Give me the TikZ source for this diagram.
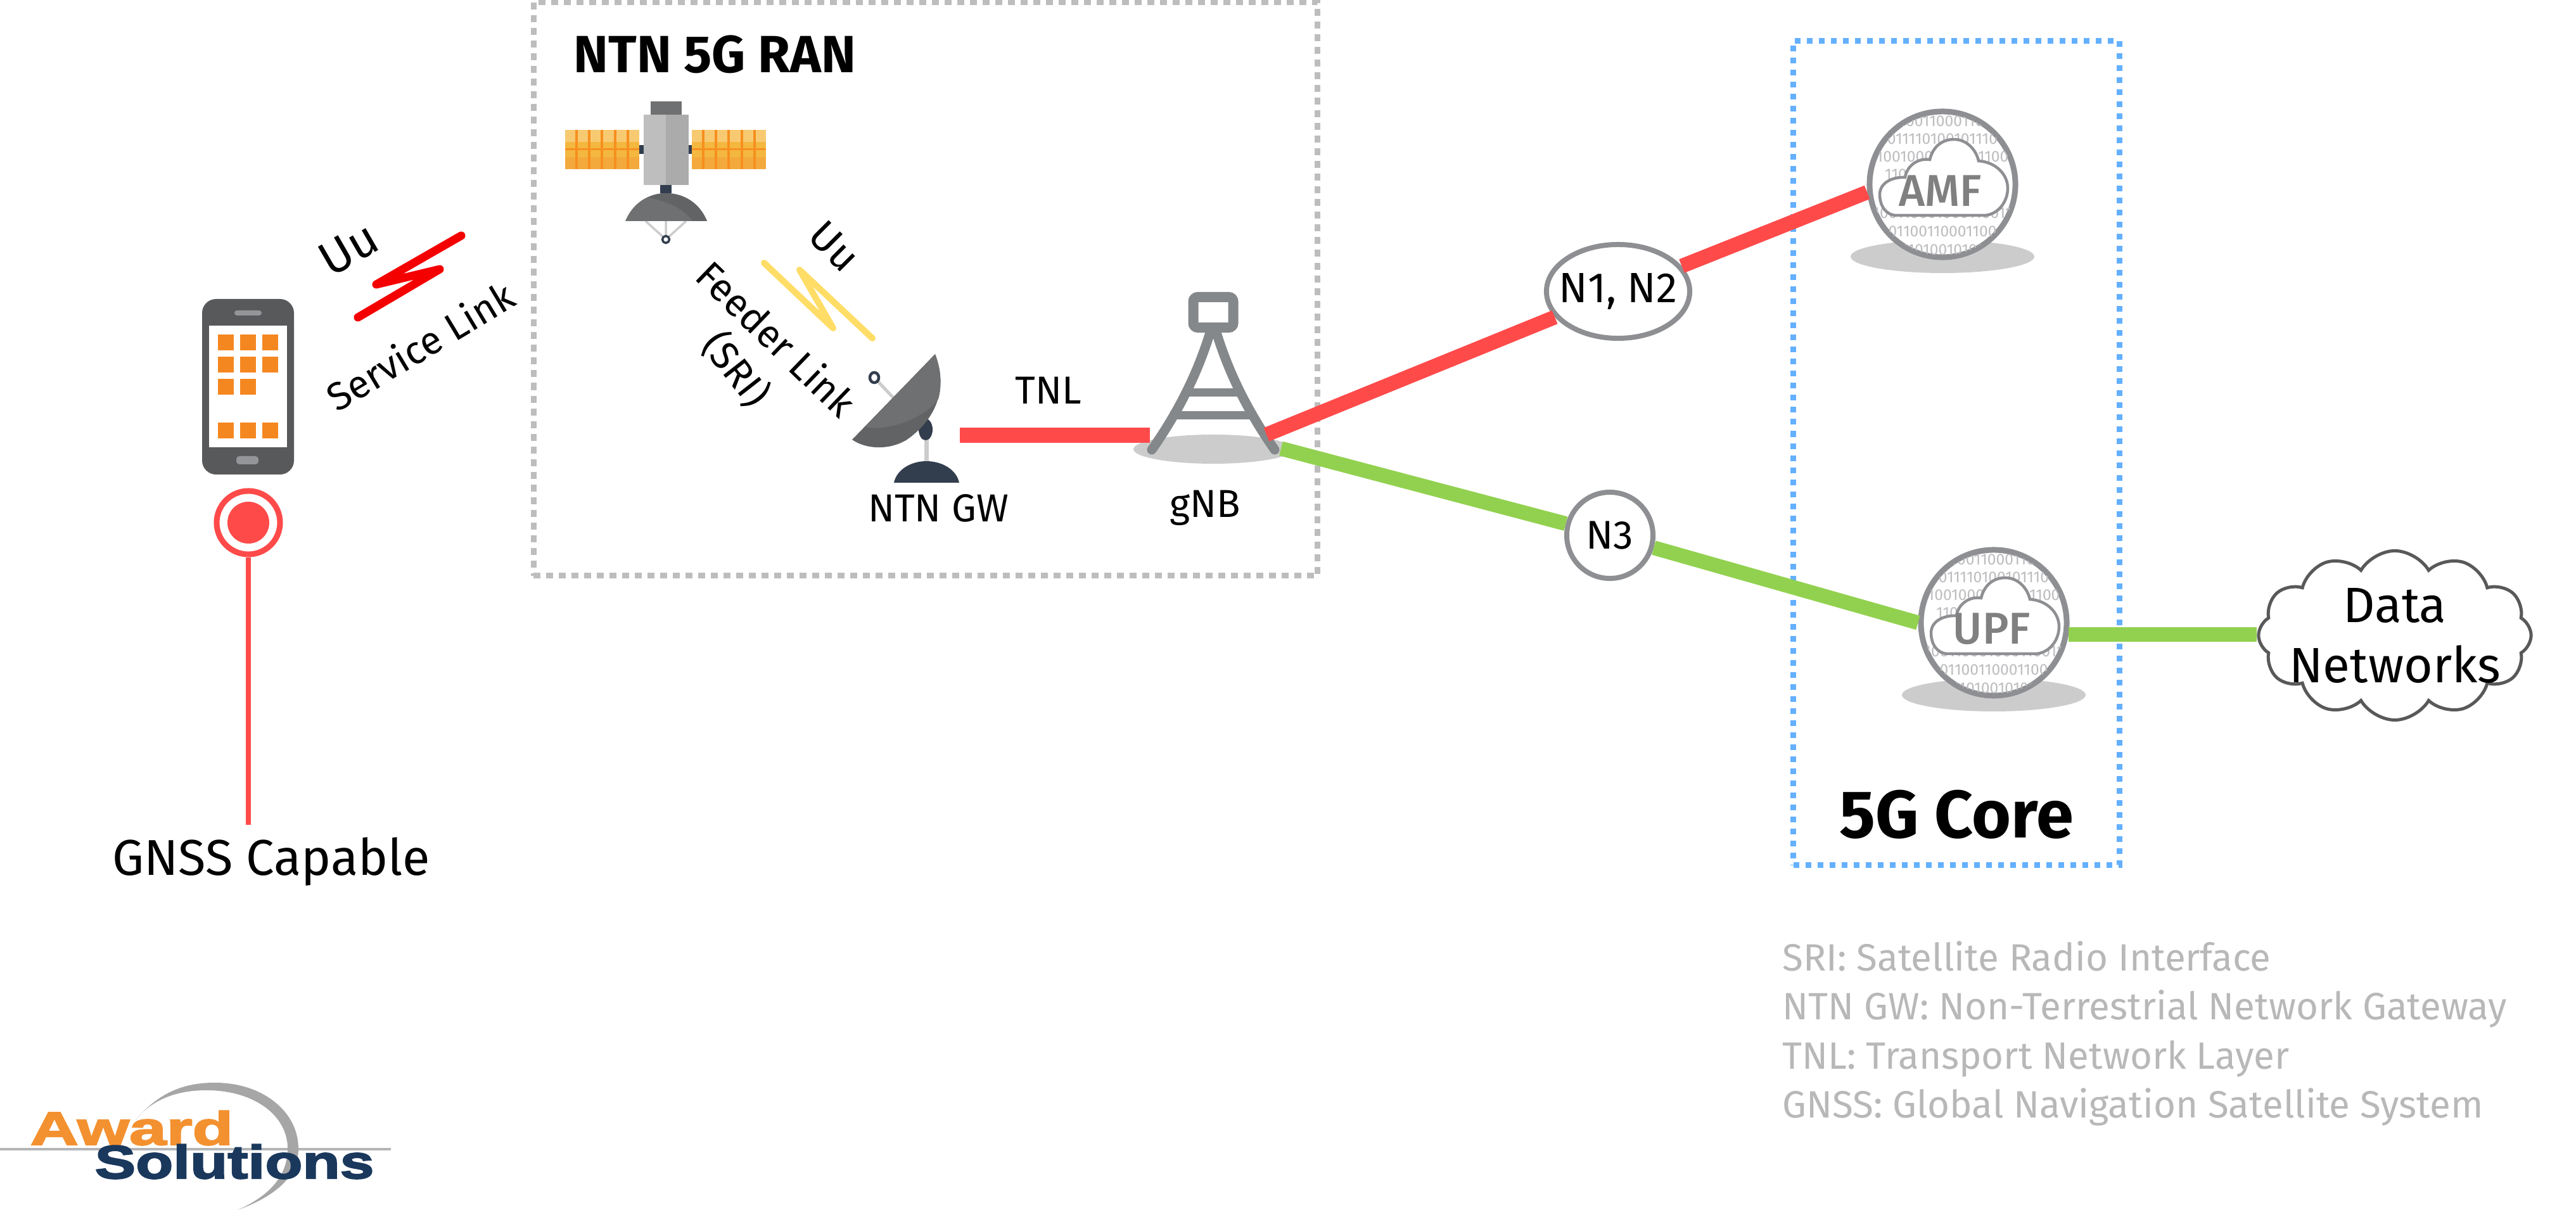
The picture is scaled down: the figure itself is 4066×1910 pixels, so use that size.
\documentclass[tikz,border=0pt]{standalone}
\usepackage{fontspec}
\setmainfont{Fira Sans}
\newfontfamily\logofont[BoldFeatures={FakeBold=3,FakeStretch=1.31}]{Liberation Sans}
\newfontfamily\nffont{Fira Sans Medium}
\usepackage{tikz}
\usetikzlibrary{positioning,shapes.geometric,shapes.symbols}
\definecolor{linkred}{HTML}{FF4A4A}
\definecolor{linkgreen}{HTML}{92D14F}
\definecolor{boltred}{HTML}{F50000}
\definecolor{boltyellow}{HTML}{FFDD66}
\definecolor{boxgray}{HTML}{BDBDBD}
\definecolor{boxblue}{HTML}{64B0FF}
\definecolor{ringgray}{HTML}{8E8F92}
\definecolor{towergray}{HTML}{85888A}
\definecolor{shadowgray}{HTML}{CCCCCC}
\definecolor{bitgray}{HTML}{BDBDC0}
\definecolor{slate}{HTML}{323E4E}
\definecolor{phonegray}{HTML}{58595B}
\definecolor{keygray}{HTML}{939598}
\definecolor{apporange}{HTML}{F58720}
\definecolor{legendgray}{HTML}{B8B8B8}
\definecolor{logoorange}{HTML}{F39130}
\definecolor{logonavy}{HTML}{1A385C}
\definecolor{swoosh}{HTML}{A6A6A6}
\definecolor{panelhi}{HTML}{F7CA72}
\definecolor{panelmid}{HTML}{F4B740}
\definecolor{panellow}{HTML}{F3A93B}
\definecolor{panelline}{HTML}{F78F1E}
\definecolor{dishlight}{HTML}{6F7071}
\definecolor{dishdark}{HTML}{626364}
\definecolor{bodylight}{HTML}{BEBEBE}
\definecolor{bodydark}{HTML}{ABABAB}
\tikzset{
  lbl/.style={font=\fontsize{17.5}{20}\selectfont, inner sep=0pt},
  hdr/.style={font=\fontsize{#1}{24}\selectfont\bfseries, inner sep=0pt},
  ranbox/.style={draw=boxgray, line width=0.09cm, dash pattern=on 0.11cm off 0.09cm, minimum width=12.37cm, minimum height=9.05cm},
  corebox/.style={draw=boxblue, line width=0.09cm, dash pattern=on 0.09cm off 0.10cm, minimum width=5.14cm, minimum height=13.01cm},
  redlink/.style={draw=linkred, line width=0.23cm},
  greenlink/.style={draw=linkgreen, line width=0.23cm},
  bolt/.style={line width=0.13cm, line cap=round, line join=round},
  ifnode/.style={draw=ringgray, fill=white, line width=0.08cm, inner sep=0pt},
  nfring/.style={draw=ringgray, fill=white, circle, line width=0.09cm, minimum size=2.3cm, inner sep=0pt},
  nfcloud/.style={draw=ringgray, fill=white, line width=0.045cm},
  nflbl/.style={text=black!50, font=\nffont\fontsize{20}{22}\selectfont, inner sep=0pt},
  bitrow/.style={text=bitgray, font=\fontsize{7}{8}\selectfont, inner sep=0pt},
  tower/.style={draw=towergray, line width=0.15cm, line cap=round}
}
% network function: circle of bits with a cloud and a shadow
\newcommand{\nfnode}[4]{%
  \begin{scope}[shift={(#1,#2)}]
    \fill[shadowgray] (0,114) ellipse [x radius=145, y radius=26];
    \node[nfring] (#3) at (0,0) {};
    \begin{scope}
      \clip (0,0) circle [radius=112];
      \foreach \ry/\bits in {-100/1100110001100,-72/011110100101110,-44/10010001100101100,-16/110001100100011,14/10100100110001,45/100110001000110011,74/01100110001100,103/11010010101}
        \node[bitrow] (#3b\ry) at (0,\ry) {\bits};
    \end{scope}
    \draw[nfcloud] (-72,49) .. controls (-90,49) and (-99,33) .. (-99,16) .. controls (-99,-2) and (-80,-12) .. (-59,-11) .. controls (-56,-30) and (-38,-42) .. (-20,-39) .. controls (-15,-60) and (0,-71) .. (18,-71) .. controls (38,-71) and (53,-55) .. (57,-37) .. controls (85,-35) and (103,-15) .. (103,6) .. controls (103,30) and (85,49) .. (65,49) -- cycle;
    \node[nflbl] (#3lbl) at (-3,10) {#4};
  \end{scope}}
\begin{document}
\begin{tikzpicture}[x=0.01cm, y=-0.01cm]
  \useasboundingbox (0,0) rectangle (4066,1910);
  % boxes
  \node[ranbox] (ran) at (1461,456) {};
  \node[corebox] (core) at (3088,715) {};
  \node[hdr=23.5, anchor=west] (ranlbl) at (905,86) {NTN 5G RAN};
  \node[hdr=30.2] (corelbl) at (3088,1286) {5G Core};
  % phone
  \fill[phonegray, rounded corners=0.22cm] (319,472) rectangle (464,749);
  \fill[white] (330,514) rectangle (453,706);
  \fill[keygray, rounded corners=0.04cm] (370,490) rectangle (413,498);
  \fill[keygray, rounded corners=0.05cm] (373,720) rectangle (408,733);
  \foreach \ax in {344,379,414}
    \foreach \ay in {528,563,598,667}
      \fill[apporange] (\ax,\ay) rectangle +(25,25);
  \fill[white] (414,598) rectangle +(25,25);
  % GNSS pin
  \node[circle, draw=linkred, fill=white, line width=0.09cm, minimum size=1cm, inner sep=0pt] (pin) at (392,825) {};
  \node[circle, fill=linkred, minimum size=0.66cm, inner sep=0pt] (pindot) at (pin) {};
  \node[lbl, font=\fontsize{22.6}{24}\selectfont] (gnss) at (428,1360) {GNSS Capable};
  \coordinate (gnsstop) at (392,1302);
  \draw[draw=linkred, line width=0.085cm] (pin) -- (gnsstop);
  % service link
  \draw[bolt, boltred] (565,501) -- (694,425) -- (594,449) -- (728,372);
  \node[lbl, rotate=30, font=\fontsize{21.5}{22}\selectfont] (uua) at (550,393) {Uu};
  \node[lbl, rotate=31] (serv) at (663,546) {Service Link};
  % satellite
  \foreach \px in {892,1092} {
    \begin{scope}[shift={(\px,0)}]
      \fill[panelhi] (0,205) rectangle (117,224);
      \fill[panelmid] (0,224) rectangle (117,248);
      \fill[panellow] (0,248) rectangle (117,267);
      \foreach \lx in {18,38,58,79,99}
        \draw[panelline, line width=0.035cm] (\lx,205) -- (\lx,267);
      \draw[panelline, line width=0.03cm] (0,236) -- (117,236);
    \end{scope}
  }
  \fill[slate] (1009,229) rectangle (1016,243);
  \fill[slate] (1087,229) rectangle (1092,243);
  \fill[dishlight] (1027,160) rectangle (1076,181);
  \fill[bodylight] (1016,181) rectangle (1051,292);
  \fill[bodydark] (1051,181) rectangle (1087,292);
  \fill[slate] (1042,292) rectangle (1060,305);
  \draw[shadowgray, line width=0.035cm] (1019,349) -- (1051,378) (1051,349) -- (1051,378) (1083,349) -- (1051,378);
  \fill[dishlight] (987,349) .. controls (998,322) and (1022,305) .. (1051,305) .. controls (1081,305) and (1105,322) .. (1116,349) -- cycle;
  \fill[dishdark] (1023,312) .. controls (1032,307) and (1041,305) .. (1051,305) .. controls (1081,305) and (1105,322) .. (1116,349) -- (1093,349) .. controls (1080,330) and (1055,318) .. cycle;
  \draw[slate, fill=white, line width=0.035cm] (1051,378) circle [radius=5.5];
  % feeder link
  \draw[bolt, boltyellow, line width=0.1cm] (1206,415) -- (1315,518) -- (1262,426) -- (1377,534);
  \node[lbl, rotate=-45, font=\fontsize{18.5}{20}\selectfont] (uub) at (1317,389) {Uu};
  \node[lbl, rotate=-44] (feeder) at (1226,534) {Feeder Link};
  \node[lbl, rotate=-52] (sri) at (1162,583) {(SRI)};
  % gateway dish
  \draw[shadowgray, line width=0.07cm] (1462,680) -- (1462,730);
  \draw[shadowgray, line width=0.05cm] (1380,596) -- (1412,630);
  \draw[slate, fill=white, line width=0.045cm] (1380,596) circle [x radius=7, y radius=8];
  \fill[slate] (1461,678) ellipse [x radius=11, y radius=17];
  \fill[dishdark] (1476,559) -- (1345,694) .. controls (1365,708) and (1400,712) .. (1430,695) .. controls (1470,668) and (1500,620) .. cycle;
  \fill[dishlight] (1476,559) -- (1366,674) .. controls (1400,682) and (1460,660) .. (1481,630) .. controls (1487,610) and (1485,585) .. cycle;
  \fill[slate] (1411,762) .. controls (1415,742) and (1437,728) .. (1462,728) .. controls (1488,728) and (1510,742) .. (1514,762) -- cycle;
  \node[lbl] (gwlbl) at (1481,802) {NTN GW};
  % gNB tower
  \fill[shadowgray] (1915,709) ellipse [x radius=126, y radius=23];
  \draw[tower] (1910,525) .. controls (1890,590) and (1860,650) .. (1818,710);
  \draw[tower] (1920,525) .. controls (1940,590) and (1970,650) .. (2012,710);
  \draw[tower, line cap=butt, line width=0.13cm] (1871,620) -- (1959,620) (1847,656) -- (1983,656);
  \node[draw=towergray, fill=white, line width=0.16cm, rounded corners=0.07cm, minimum width=0.63cm, minimum height=0.48cm, inner sep=0pt] (ant) at (1915,493) {};
  \node[lbl] (gnblbl) at (1902,802) {gNB};
  % core functions
  \nfnode{3066}{291}{amf}{AMF}
  \nfnode{3147}{983}{upf}{UPF}
  \node[draw=black!65, fill=white, cloud, cloud puffs=12, cloud puff arc=120, cloud ignores aspect, line width=0.05cm, minimum width=4.3cm, minimum height=2.67cm, inner xsep=-0.4cm, inner ysep=-0.3cm, align=center, font=\fontsize{22.3}{27}\selectfont] (dn) at (3780,1003) {Data\\Networks};
  % links
  \node[ifnode, ellipse, inner sep=-0.136cm, minimum width=2.26cm, minimum height=1.48cm, font=\fontsize{19}{21}\selectfont] (nonetwo) at (2554,460) {N1, N2};
  \node[ifnode, circle, minimum size=1.36cm, font=\fontsize{18}{20}\selectfont] (nthree) at (2541,845) {N3};
  \coordinate (gwout) at (1515,687);
  \coordinate (gnbin) at (1815,687);
  \coordinate (gnbred) at (1999,686);
  \coordinate (gnbgreen) at (2022,708);
  \draw[redlink] (gwout) -- node[lbl, above=0.38cm, xshift=-0.1cm, text=black] (tnl) {TNL} (gnbin);
  \draw[redlink] (gnbred) -- (nonetwo);
  \draw[redlink] (nonetwo) -- (amf.186);
  \draw[greenlink] (gnbgreen) -- (nthree);
  \draw[greenlink] (nthree) -- (upf.west);
  \draw[greenlink] (upf.-9) -- (upf.-9 -| dn.west);
  % legend
  \node[anchor=north west, align=left, inner sep=0pt, text=legendgray, font=\fontsize{17.07}{22}\selectfont] (legend) at (2813,1485) {SRI: Satellite Radio Interface\\NTN GW: Non-Terrestrial Network Gateway\\TNL: Transport Network Layer\\GNSS: Global Navigation Satellite System};
  % logo
  \draw[color=keygray!70, line width=0.04cm] (0,1814) -- (617,1814);
  \fill[swoosh] (214,1768) .. controls (250,1725) and (290,1709) .. (339,1709) .. controls (415,1709) and (471,1755) .. (471,1813) .. controls (471,1860) and (430,1890) .. (375,1910) .. controls (420,1890) and (454,1860) .. (454,1813) .. controls (454,1760) and (400,1721) .. (326,1721) .. controls (280,1721) and (240,1735) .. cycle;
  \node[anchor=base west, inner sep=0pt, xscale=1.09, text=logoorange, font=\logofont\bfseries\fontsize{21}{24}\selectfont] (award) at (47,1807) {Award};
  \node[anchor=base west, inner sep=0pt, text=logonavy, font=\logofont\bfseries\fontsize{21}{24}\selectfont] (solutions) at (149,1860) {Solutions};
\end{tikzpicture}
\end{document}
